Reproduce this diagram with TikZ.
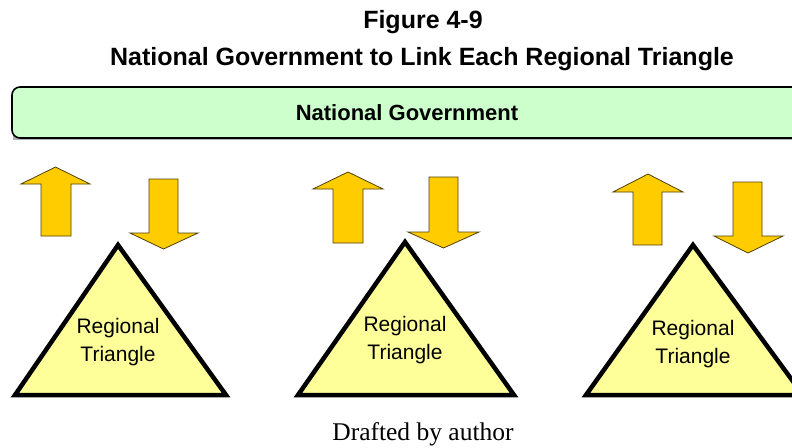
\documentclass[tikz,border=0pt]{standalone}
\usepackage{fontspec}
\setmainfont{Liberation Sans}
\newfontfamily\serifx{Liberation Serif}
\definecolor{barfill}{HTML}{CCFFCC}
\definecolor{trifill}{HTML}{FFFF99}
\definecolor{arrfill}{HTML}{FFCC00}
\definecolor{arrline}{HTML}{4D4000}
\begin{document}
\begin{tikzpicture}[x=1pt,y=-1pt,
  tri/.style={draw=black,line width=4.5pt,fill=trifill,line join=miter},
  blockarrow/.style={draw=arrline,line width=0.8pt,fill=arrfill,line join=miter},
  tritext/.style={font=\fontsize{21}{28}\selectfont,align=center,inner sep=0pt},
  bartext/.style={font=\fontsize{22}{26}\selectfont\bfseries,anchor=base,inner sep=0pt},
  titletext/.style={font=\fontsize{25}{30}\selectfont\bfseries,anchor=base,inner sep=0pt}]
\useasboundingbox (0,0) rectangle (792,447);
\clip (0,0) rectangle (792,447);
% title
\node[titletext] (t1) at (423,28) {Figure 4-9};
\node[titletext] (t2) at (422,65) {National Government to Link Each Regional Triangle};
% national government bar
\fill[gray!60] (13,89) rectangle (820,140);
\draw[draw=black,line width=1.6pt,fill=barfill,rounded corners=8pt] (12,87) rectangle (820,138);
\node[bartext] (gov) at (407,120) {National Government};
% triangles
\draw[tri] (118,245) -- (226,395) -- (15,395) -- cycle;
\draw[tri] (405,242) -- (514,395) -- (298,395) -- cycle;
\draw[tri] (693,245) -- (803,395) -- (586,395) -- cycle;
\node[tritext] (r1) at (118,342) {Regional\\Triangle};
\node[tritext] (r2) at (405,340) {Regional\\Triangle};
\node[tritext] (r3) at (693,344) {Regional\\Triangle};
% arrows region 1
\draw[blockarrow] (55.5,167) -- (90,184) -- (71,184) -- (71,236) -- (41,236) -- (41,184) -- (21,184) -- cycle;
\draw[blockarrow] (149,179) -- (178,179) -- (178,233) -- (198,233) -- (163.5,249) -- (130,233) -- (149,233) -- cycle;
% arrows region 2
\draw[blockarrow] (348,172) -- (383,189) -- (363,189) -- (363,243) -- (333,243) -- (333,189) -- (313,189) -- cycle;
\draw[blockarrow] (429,177) -- (458,177) -- (458,232) -- (479,232) -- (443.5,248) -- (408,232) -- (429,232) -- cycle;
% arrows region 3
\draw[blockarrow] (648,174) -- (683,192) -- (662,192) -- (662,245) -- (633,245) -- (633,192) -- (613,192) -- cycle;
\draw[blockarrow] (733,182) -- (762,182) -- (762,236) -- (783,236) -- (748,253) -- (714,236) -- (733,236) -- cycle;
% source
\node[font=\fontsize{25.5}{30}\selectfont\serifx,anchor=base,inner sep=0pt] (src) at (423,440) {Drafted by author};
\end{tikzpicture}
\end{document}
